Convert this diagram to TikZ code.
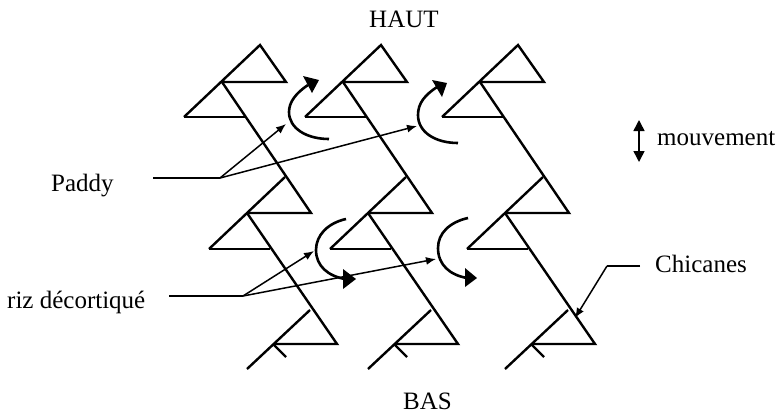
\documentclass[tikz,border=0pt]{standalone}
\usepackage{fontspec}
\setmainfont{Liberation Serif}
\usetikzlibrary{arrows.meta}
\tikzset{
  x=1pt,y=-1pt,
  wall/.style={line width=2.4pt,line join=miter,line cap=butt},
  thin arrow/.style={line width=1.5pt,-{Latex[length=10pt,width=8pt]}},
  thin line/.style={line width=1.5pt},
  flow/.style={line width=2.6pt},
  flowhead/.style={fill=black,draw=none},
  label/.style={font=\fontsize{25}{30}\selectfont,inner sep=0pt,anchor=base west}
}
\newcommand{\column}[1]{%
  \begin{scope}[xshift=#1pt]
    \draw[wall] (184,117)--(260,45)--(286,82)--(222,82);
    \draw[wall] (184,117)--(245,117);
    \draw[wall] (222,82)--(311,213)--(247,213);
    \draw[wall] (209,249)--(285,177);
    \draw[wall] (209,249)--(270,249);
    \draw[wall] (247,213)--(337,344)--(273,344);
    \draw[wall] (247,369)--(310,310);
    \draw[wall] (273,344)--(286,357);
  \end{scope}}
\begin{document}
\begin{tikzpicture}
\useasboundingbox (0,0) rectangle (779,413);
\column{0}\column{121}\column{258}
\draw[flow] (329,139) .. controls (306,139) and (289,128) .. (289,112) .. controls (289,102) and (296,93) .. (308,85);
\fill[flowhead] (303,76)--(319,80)--(312,93)--cycle;
\draw[flow] (458,143) .. controls (435,143) and (418,132) .. (418,115) .. controls (418,103) and (425,95) .. (437,87);
\fill[flowhead] (432,80)--(447,83)--(442,97)--cycle;
\draw[flow] (346,219) .. controls (328,223) and (316,235) .. (316,250) .. controls (316,266) and (328,276) .. (345,279);
\fill[flowhead] (356,279)--(343,269)--(343,289)--cycle;
\draw[flow] (468,218) .. controls (450,222) and (438,233) .. (438,248) .. controls (438,265) and (450,275) .. (467,278);
\fill[flowhead] (477,278)--(465,268)--(465,287)--cycle;
\coordinate (pj) at (220,178); \coordinate (pl) at (153,178);
\coordinate (pa) at (286,124); \coordinate (pb) at (417,126);
\draw[thin line] (pl)--(pj);
\draw[thin arrow] (pj)--(pa);
\draw[thin arrow] (pj)--(pb);
\coordinate (rj) at (243,296); \coordinate (rl) at (169,296);
\coordinate (ra) at (314,251); \coordinate (rb) at (436,259);
\draw[thin line] (rl)--(rj);
\draw[thin arrow] (rj)--(ra);
\draw[thin arrow] (rj)--(rb);
\coordinate (c1) at (640,266); \coordinate (c2) at (607,266); \coordinate (c3) at (575,318);
\draw[thin line] (c1)--(c2);
\draw[thin arrow] (c2)--(c3);
\coordinate (m1) at (639,120); \coordinate (m2) at (639,162);
\draw[line width=1.5pt,{Triangle[length=11pt,width=11pt]}-{Triangle[length=11pt,width=11pt]}] (m1)--(m2);
\node[label] (haut) at (369,27) {HAUT};
\node[label] (bas) at (403,409) {BAS};
\node[label] (mv) at (657,145) {mouvement};
\node[label] (pd) at (51,191) {Paddy};
\node[label] (rz) at (7,308) {riz décortiqué};
\node[label] (ch) at (655,272) {Chicanes};
\end{tikzpicture}
\end{document}
